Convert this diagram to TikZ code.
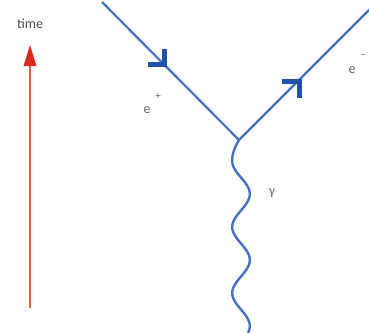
\documentclass[tikz,border=0pt]{standalone}
\usepackage{fontspec}
\setmainfont{Carlito}
\definecolor{fermion}{RGB}{72,112,192}
\definecolor{fhead}{RGB}{32,82,172}
\definecolor{timeline}{RGB}{218,100,72}
\definecolor{timehead}{RGB}{222,40,30}
\definecolor{labelgray}{RGB}{105,105,105}
\begin{document}
\begin{tikzpicture}[x=1pt,y=-1pt,
  fline/.style={draw=fermion,line width=2.2pt},
  fchev/.style={draw=fhead,line width=5pt,miter limit=10,line join=miter},
  lbl/.style={text=labelgray,inner sep=0pt,font=\fontsize{14}{16}\selectfont},
  sup/.style={text=labelgray,inner sep=0pt,font=\fontsize{11}{13}\selectfont}]
\useasboundingbox (0,0) rectangle (369,332);
\fill[white] (0,0) rectangle (369,332);
% coordinates
\coordinate (v) at (239,140);
\coordinate (lstart) at (102,2);
\coordinate (rend) at (371,8);
\coordinate (g1) at (232,161);
\coordinate (tbot) at (30,308);
\coordinate (ttop) at (30,45);
% fermion lines
\draw[fline] (lstart) -- (v);
\draw[fline] (v) -- (rend);
% chevron arrowheads
\coordinate (la) at (164.5,64.5);
\coordinate (ra) at (299,81);
\draw[fchev] ([xshift=-17pt]la) -- (la) -- ([yshift=16pt]la);
\draw[fchev] ([xshift=-17pt]ra) -- (ra) -- ([yshift=-17pt]ra);
% photon
\draw[draw=fermion,line width=2.4pt] (v) .. controls (235,146) and (232,154) .. (g1);
\draw[draw=fermion,line width=2.4pt] plot[domain=0:172,samples=120,variable=\t,smooth]
  ({241-8.8*cos(5.4545*\t)},{161+\t});
% time arrow
\draw[draw=timeline,line width=1.5pt] (tbot) -- (30,60);
\fill[timehead] (ttop) -- (36.5,66) -- (23.5,66) -- cycle;
\node[text=black!70,inner sep=0pt,font=\fontsize{14}{16}\selectfont] (time) at (30,24) {time};
% labels
\node[lbl] (ep) at (147,110) {e};
\node[sup] (epp) at (158,96) {+};
\node[lbl] (em) at (352,70) {e};
\node[sup] (emm) at (363,57) {\char"2212};
\node[lbl] (gam) at (272,193) {γ};
\end{tikzpicture}
\end{document}
